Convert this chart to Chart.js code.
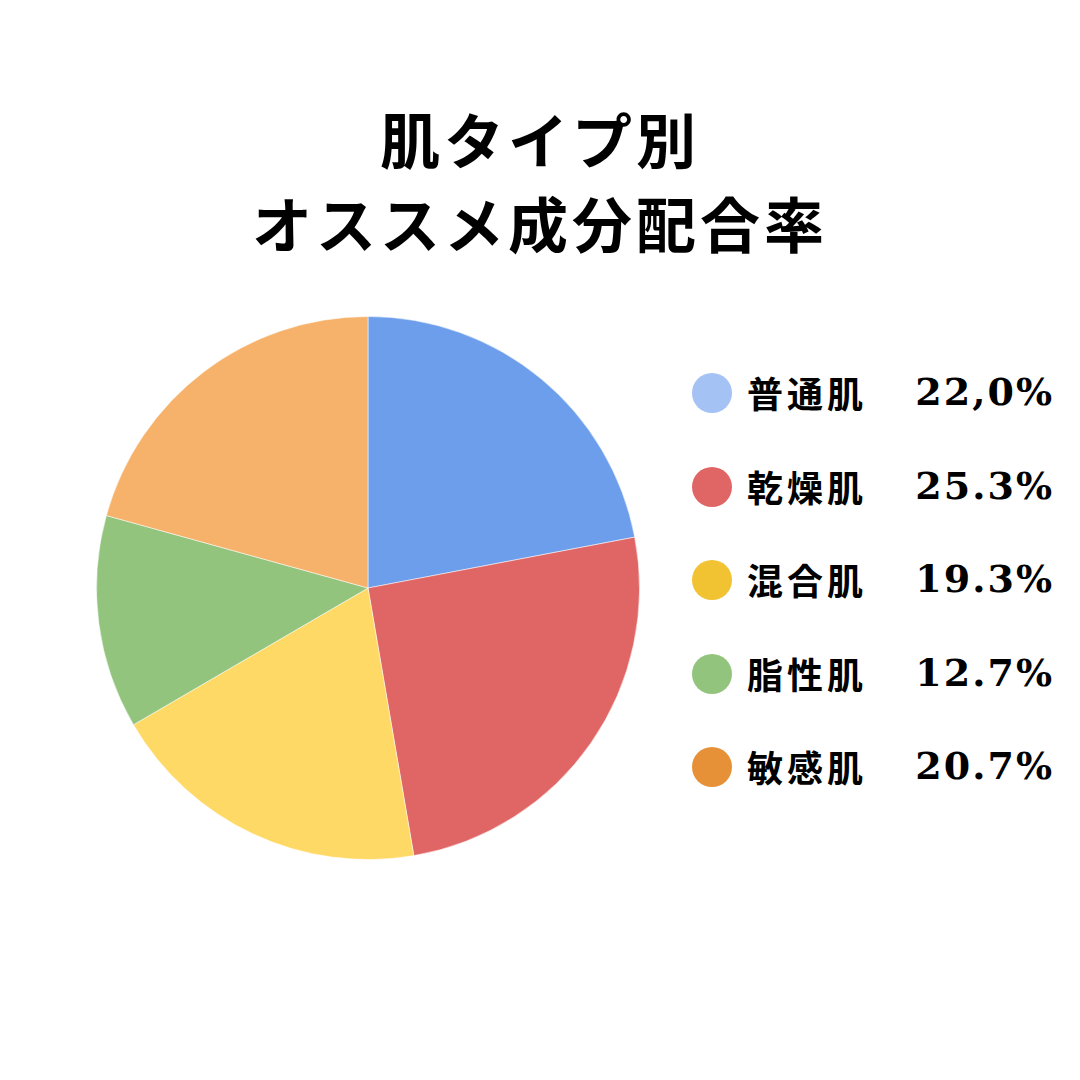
<!DOCTYPE html>
<html lang="ja">
<head>
<meta charset="utf-8">
<script src="https://cdn.jsdelivr.net/npm/chart.js@4"></script>
<style>
  html, body { margin: 0; padding: 0; background: #fff; }
  #page { position: relative; width: 1080px; height: 1080px; overflow: hidden; }
  #title { position: absolute; left: 0; top: 96px; width: 1080px; text-align: center;
    font-family: "Noto Sans CJK JP", sans-serif; font-weight: 700; font-size: 60px;
    line-height: 84px; letter-spacing: 4px; color: #000; }
  #pieBox { position: absolute; left: 96px; top: 316px; width: 544px; height: 544px; }
  #legend { position: absolute; left: 692px; top: 346px; width: 362px; }
  .row { position: relative; height: 93.5px; }
  .dot { position: absolute; left: 0; top: 27px; width: 40px; height: 40px; border-radius: 50%; }
  .lab { position: absolute; left: 55px; top: 22px; font-family: "Noto Sans CJK JP", sans-serif;
    font-weight: 700; font-size: 36px; line-height: 48px; letter-spacing: 4px; color: #000; }
  .pct { position: absolute; right: 0; top: 22px; font-family: "DejaVu Serif", serif;
    font-weight: 700; font-size: 38px; line-height: 48px; letter-spacing: 2px; color: #000; }
</style>
</head>
<body>
<div id="page">
  <div id="title">肌タイプ別<br>オススメ成分配合率</div>
  <div id="pieBox"><canvas id="pie" width="544" height="544"></canvas></div>
  <div id="legend"></div>
</div>
<script>
// 肌タイプ別の割合
var labels = ['普通肌', '乾燥肌', '混合肌', '脂性肌', '敏感肌'];
var values = [22.0, 25.3, 19.3, 12.7, 20.7];
var valueTexts = ['22,0%', '25.3%', '19.3%', '12.7%', '20.7%'];
var sliceColors = ['#6d9eeb', '#e06666', '#ffd966', '#93c47d', '#f6b26b'];
var dotColors = ['#a4c2f4', '#e06666', '#f1c232', '#93c47d', '#e69138'];

var legend = document.getElementById('legend');
for (var i = 0; i < labels.length; i++) {
    var row = document.createElement('div');
    row.className = 'row';
    row.innerHTML = '<div class="dot" style="background:' + dotColors[i] + '"></div>' +
        '<div class="lab">' + labels[i] + '</div>' +
        '<div class="pct">' + valueTexts[i] + '</div>';
    legend.appendChild(row);
}

new Chart(document.getElementById('pie').getContext('2d'), {
    type: 'pie',
    data: { labels: labels, datasets: [{ data: values, backgroundColor: sliceColors,
        borderColor: 'rgba(255,255,255,0.5)', borderWidth: 1 }] },
    options: {
        responsive: false,
        animation: false,
        layout: { padding: 0 },
        plugins: { legend: { display: false }, tooltip: { enabled: false } }
    }
});
</script>
</body>
</html>
